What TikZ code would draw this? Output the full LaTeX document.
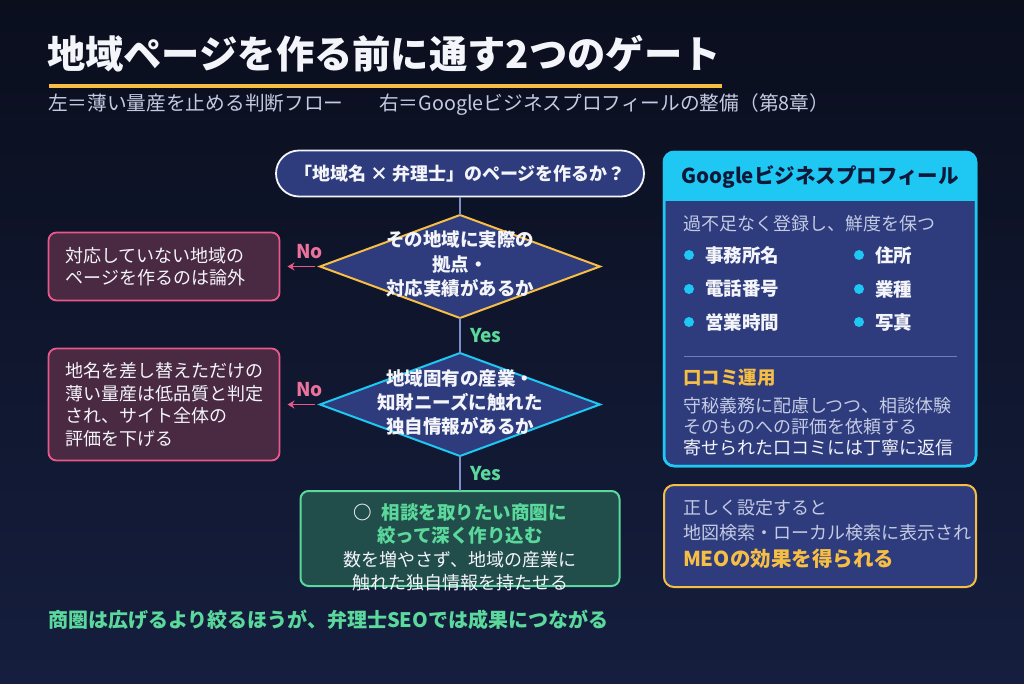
\documentclass[tikz,border=0pt]{standalone}
\usepackage{fontspec}
\setmainfont{Noto Sans CJK JP}
\usetikzlibrary{arrows.meta, positioning, calc, shapes.geometric}
\definecolor{bgtop}{HTML}{0A0E1D}
\definecolor{bgbot}{HTML}{151E3E}
\definecolor{panel}{HTML}{2E3C7E}
\definecolor{inkwhite}{HTML}{F4F5FA}
\definecolor{inkgray}{HTML}{C3CAE2}
\definecolor{inkgold}{HTML}{F6BE45}
\definecolor{inkpink}{HTML}{E8598A}
\definecolor{inkcyan}{HTML}{1EC8F2}
\definecolor{inkgreen}{HTML}{5BD89C}
\definecolor{inkline}{HTML}{7D8FC9}
\definecolor{inknavy}{HTML}{0F1838}
\definecolor{warnfill}{HTML}{4A2943}
\definecolor{okfill}{HTML}{214E4B}
\newcommand{\fs}[2]{\fontsize{#1}{#2}\selectfont}

\begin{document}
\begin{tikzpicture}[x=1pt, y=-1pt,
    >={Stealth[length=7pt, width=8pt]},
    every node/.style={inner sep=0pt, outer sep=0pt, text=inkwhite},
    start/.style={rectangle, rounded corners=23pt, draw=inkwhite, fill=panel,
                  line width=1.8pt, minimum width=368pt, minimum height=46pt,
                  font=\fs{18}{22}\bfseries},
    gate/.style={diamond, fill=panel, line width=2pt,
                 minimum width=280pt, minimum height=103pt},
    gatetext/.style={align=center, font=\fs{18.5}{24}\bfseries},
    warnbox/.style={rectangle, rounded corners=8pt, draw=inkpink, fill=warnfill,
                    line width=1.8pt, minimum width=231pt, text width=197pt,
                    align=left, font=\fs{18}{22}},
    flow/.style={line width=1.6pt, draw=inkline},
    noway/.style={->, line width=1.8pt, draw=inkpink},
    nolabel/.style={pos=0.2, above=8pt, text=inkpink!85!white, font=\fs{19}{22}\bfseries},
    yeslabel/.style={right=10pt, text=inkgreen, font=\fs{19}{22}\bfseries},
    card/.style={rectangle, rounded corners=10pt, fill=panel, line width=2.5pt,
                 minimum width=312pt},
    dot/.style={circle, fill=inkcyan, minimum size=10pt},
    item/.style={font=\fs{18.5}{22}\bfseries},
    note/.style={anchor=west, text=inkgray, font=\fs{18}{22}}]

  % background
  \shade[top color=bgtop, bottom color=bgbot] (0,0) rectangle (1024,683);
  \useasboundingbox (0,0) rectangle (1024,683);

  % heading
  \node[anchor=west, font=\fs{38.3}{44}\bfseries] (title) at (47,54)
    {地域ページを作る前に通す2つのゲート};
  \draw[inkgold, line width=4pt] (49,86) -- (722,86);
  \node[note, font=\fs{19.7}{22}] (subtitle) at (48,105)
    {左＝薄い量産を止める判断フロー\hspace{16pt}　右＝Googleビジネスプロフィールの整備（第8章）};

  % flow
  \node[start] (ask) at (460,173.5) {「地域名 × 弁理士」のページを作るか？};
  \node[gate, draw=inkgold] (q1) at (460,266.5) {};
  \node[gatetext] (q1t) at (460,264) {その地域に実際の\\拠点・\\対応実績があるか};
  \node[gate, draw=inkcyan] (q2) at (460,404.5) {};
  \node[gatetext] (q2t) at (460,402) {地域固有の産業・\\知財ニーズに触れた\\独自情報があるか};
  \node[warnbox, minimum height=68pt] (no1) at (164,266.5)
    {対応していない地域の\\ページを作るのは論外};
  \node[warnbox, minimum height=112pt, font=\fs{18}{22.5}] (no2) at (164,404.5)
    {地名を差し替えただけの\\薄い量産は低品質と判定\\され、サイト全体の\\評価を下げる};
  \node[rectangle, rounded corners=8pt, draw=inkgreen, fill=okfill, line width=2pt,
        minimum width=319pt, minimum height=95pt] (ok) at (460,538.5) {};
  \node[align=center, font=\fs{18}{23.5}] (okt) at (460,547.5)
    {{\fs{18.5}{24}\bfseries\textcolor{inkwhite}{○}\hspace{10pt}\textcolor{inkgreen}{相談を取りたい商圏に}}\\
     {\fs{18.5}{24}\bfseries\textcolor{inkgreen}{絞って深く作り込む}}\\
     数を増やさず、地域の産業に\\触れた独自情報を持たせる};

  \draw[flow] (ask) -- (q1);
  \draw[flow] (q1) -- node[yeslabel] {Yes} (q2);
  \draw[flow] (q2) -- node[yeslabel] {Yes} (ok);
  \draw[noway] ([xshift=-5pt]q1.west) -- node[nolabel] {No} ([xshift=8pt]no1.east);
  \draw[noway] ([xshift=-5pt]q2.west) -- node[nolabel] {No} ([xshift=8pt]no2.east);

  \node[anchor=west, text=inkgreen, font=\fs{20}{24}\bfseries] (moral) at (48,620)
    {商圏は広げるより絞るほうが、弁理士SEOでは成果につながる};

  % Google business profile card
  \node[card, draw=inkcyan, minimum height=314pt] (gbp) at (820,309) {};
  \begin{scope}
    \clip[rounded corners=10pt] (gbp.north west) rectangle (gbp.south east);
    \fill[inkcyan] (gbp.north west) rectangle ([yshift=-49pt]gbp.north east);
  \end{scope}
  \draw[inkcyan, line width=2.5pt, rounded corners=10pt]
    (gbp.north west) rectangle (gbp.south east);
  \node[text=inknavy, font=\fs{20.5}{24}\bfseries] (gbphead) at (820,177)
    {Googleビジネスプロフィール};
  \node[note] (fresh) at (683,224) {過不足なく登録し、鮮度を保つ};
  \foreach \i/\txt/\x/\y in {1/事務所名/689/255, 2/電話番号/689/289,
      3/営業時間/689/322, 4/住所/859/255, 5/業種/859/289, 6/写真/859/322} {
    \node[dot] (d\i) at (\x,\y) {};
    \node[item, right=11pt of d\i] (it\i) {\txt};
  }
  \draw[inkline!80!panel, line width=1pt] (684,356) -- (957,356);
  \node[anchor=west, text=inkgold, font=\fs{18.5}{22}\bfseries] (review) at (683,378)
    {口コミ運用};
  \node[note] (review1) at (683,406) {守秘義務に配慮しつつ、相談体験};
  \node[note] (review2) at (683,427) {そのものへの評価を依頼する};
  \node[note, text=inkwhite] (review3) at (683,448) {寄せられた口コミには丁寧に返信};

  % MEO card
  \node[card, draw=inkgold, line width=2pt, minimum height=102pt] (meo) at (820,536) {};
  \node[note] (meo1) at (683,508) {正しく設定すると};
  \node[note] (meo2) at (683,533) {地図検索・ローカル検索に表示され};
  \node[anchor=west, text=inkgold, font=\fs{20.5}{24}\bfseries] (meo3) at (683,559)
    {MEOの効果を得られる};
\end{tikzpicture}
\end{document}
